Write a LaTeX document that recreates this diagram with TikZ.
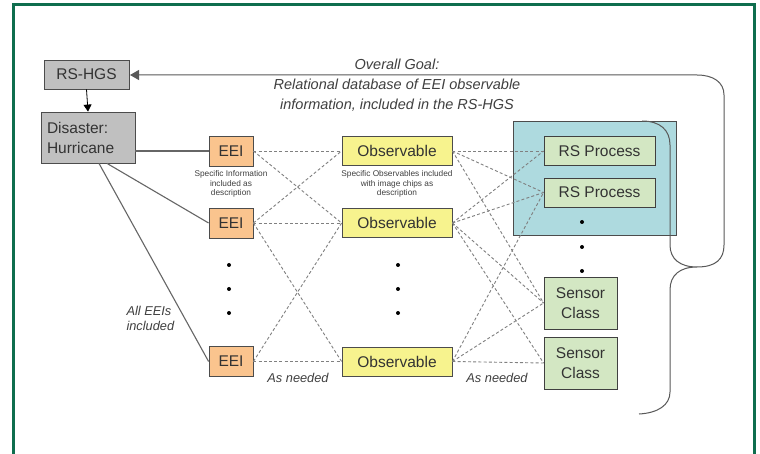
\documentclass[tikz,border=0pt]{standalone}
\usepackage{fontspec}
\setmainfont{Liberation Sans}
\usetikzlibrary{arrows.meta}

\definecolor{framegreen}{HTML}{0F6E4E}
\definecolor{boxgray}{HTML}{C0C0C0}
\definecolor{eeiorange}{HTML}{FAC48E}
\definecolor{obsyellow}{HTML}{F7F38E}
\definecolor{rsgreen}{HTML}{D3E7C3}
\definecolor{groupblue}{HTML}{AEDADF}

\begin{document}
\begin{tikzpicture}[x=1pt,y=-1pt,
    box/.style={draw=black!70,line width=0.8pt,inner sep=0pt,text=black!80,
      font=\fontsize{15.5}{20}\selectfont},
    graybox/.style={box,fill=boxgray},
    eeibox/.style={box,fill=eeiorange,minimum width=44,minimum height=30},
    obsbox/.style={box,fill=obsyellow,minimum width=110,minimum height=29},
    rsbox/.style={box,fill=rsgreen,draw=black!75,minimum width=111,minimum height=29},
    sensorbox/.style={box,fill=rsgreen,draw=black!75,minimum width=73,minimum height=52,align=center},
    link/.style={draw=black!50,line width=0.9pt,dash pattern=on 3pt off 2.2pt},
    wire/.style={draw=black!60,line width=1.1pt},
    note/.style={align=center,text=black!75,font=\fontsize{8.3}{9.8}\selectfont},
    lbl/.style={text=black!75,font=\fontsize{12.8}{15}\selectfont\itshape}]
  \useasboundingbox (0,0) rectangle (760,454);
  \fill[white] (0,0) rectangle (760,454);
  \draw[framegreen,line width=3pt] (13,456) -- (13,5) -- (754,5) -- (754,456);

  \node[draw=black!70,line width=0.8pt,fill=groupblue,minimum width=163,minimum height=114,inner sep=0pt] (rsgroup) at (594.5,178) {};
  \draw[black!65,line width=1pt,-{Triangle[length=9pt,width=10pt]}]
    (697,267) .. controls (716,267) and (724,259) .. (724,245) -- (724,95)
    .. controls (724,82) and (713,75) .. (697,75) -- (130,75);
  \draw[black!65,line width=1pt]
    (642,121) .. controls (660,121) and (670,130) .. (670,145) -- (670,245)
    .. controls (670,259) and (680,267) .. (697,267)
    .. controls (680,267) and (670,275) .. (670,290) -- (670,392)
    .. controls (670,405) and (658,413) .. (639,414);

  \node[graybox,minimum width=85,minimum height=29] (hgs) at (86.5,74.5) {RS-HGS};
  \node[graybox,minimum width=94,minimum height=51,align=left,text width=82] (dis) at (88,137.5) {Disaster:\\Hurricane};
  \draw[black,line width=0.8pt,-{Triangle[length=7pt,width=8pt]}] (hgs.south) -- (dis.north);

  \foreach \i/\y in {1/151,2/223,3/361.5} {
    \node[eeibox] (eei\i) at (231,\y) {EEI};
    \node[obsbox] (obs\i) at (397,\y) {Observable};
  }
  \node[rsbox] (rs1) at (599.5,151) {RS Process};
  \node[rsbox] (rs2) at (599.5,192.5) {RS Process};
  \node[sensorbox] (sc1) at (580.5,303) {Sensor\\Class};
  \node[sensorbox] (sc2) at (580.5,363) {Sensor\\Class};

  \draw[wire] (eei1.west -| dis.east) -- (eei1.west);
  \draw[wire] ([xshift=19pt]dis.south) -- (eei2.west);
  \draw[wire] ([xshift=11pt]dis.south) -- (eei3.west);

  \foreach \a/\b in {1/1,1/2,2/1,2/2,2/3,3/2,3/3} {
    \draw[link] (eei\a.east) -- (obs\b.west);
  }
  \foreach \a/\b in {1/rs1,1/rs2,1/sc1,2/rs1,2/rs2,2/sc1,2/sc2,3/rs2,3/sc1,3/sc2} {
    \draw[link] (obs\a.east) -- (\b.west);
  }

  \foreach \y in {265,289,313} {
    \fill (229,\y) circle (2);
    \fill (398,\y) circle (2);
  }
  \foreach \y in {222,247,271} {
    \fill (582,\y) circle (2);
  }

  \node[align=center,text=black!75,font=\fontsize{14.5}{20}\selectfont\itshape] (goal) at (397,85)
    {Overall Goal:\\Relational database of EEI observable\\information, included in the RS-HGS};
  \node[note] (eeinote) at (231,184) {Specific Information\\included as\\description};
  \node[note] (obsnote) at (397,184) {Specific Observables included\\with image chips as\\description};
  \node[lbl,align=left,anchor=west] (alleeis) at (123,318) {All EEIs\\included};
  \node[lbl] (needed1) at (298,378) {As needed};
  \node[lbl] (needed2) at (497,378) {As needed};
\end{tikzpicture}
\end{document}
